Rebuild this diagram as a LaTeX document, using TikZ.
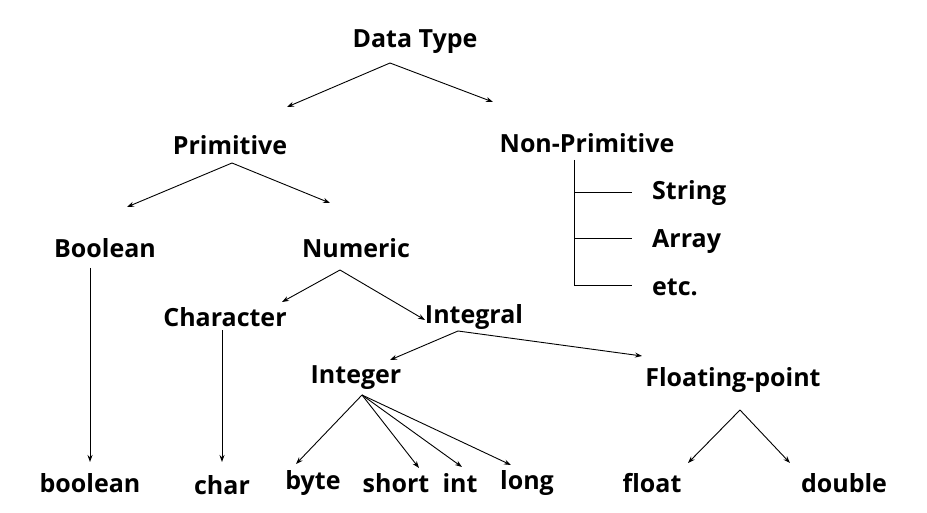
\documentclass[tikz,border=0pt]{standalone}
\usepackage{fontspec}
\setmainfont{Open Sans}
\usetikzlibrary{arrows.meta}
\begin{document}
\begin{tikzpicture}[x=1pt,y=-1pt,
  lbl/.style={font=\fontsize{25}{28}\selectfont\bfseries, inner sep=0pt},
  arr/.style={-{Stealth[length=7pt,width=5pt]}, line width=0.9pt},
  ln/.style={line width=0.9pt}]
\useasboundingbox (0,0) rectangle (927,513);
\node[lbl] (dt) at (415,42) {Data Type};
\node[lbl] (prim) at (230,145) {Primitive};
\node[lbl] (np) at (587,143) {Non-Primitive};
\node[lbl,anchor=west] (str) at (652,193) {String};
\node[lbl,anchor=west] (arrn) at (652,242) {Array};
\node[lbl,anchor=west] (etc) at (652,287) {etc.};
\node[lbl] (bool) at (105,248) {Boolean};
\node[lbl] (num) at (356,248) {Numeric};
\node[lbl] (chr) at (225,317) {Character};
\node[lbl] (intg) at (474,317) {Integral};
\node[lbl] (integer) at (356,378) {Integer};
\node[lbl] (fp) at (733,380) {Floating-point};
\node[lbl] (b1) at (90,483) {boolean};
\node[lbl] (b2) at (222,485) {char};
\node[lbl] (b3) at (313,483) {byte};
\node[lbl] (b4) at (396,483) {short};
\node[lbl] (b5) at (460,483) {int};
\node[lbl] (b6) at (527,483) {long};
\node[lbl] (b7) at (652,483) {float};
\node[lbl] (b8) at (844,483) {double};
% connector end points
\coordinate (dtS) at (390,63);
\coordinate (primN) at (287,107);
\coordinate (npN) at (493,102);
\coordinate (primS) at (232,163);
\coordinate (boolN) at (127,207);
\coordinate (numN) at (330,203);
\coordinate (boolS) at (90,268);
\coordinate (b1N) at (90,462);
\coordinate (numS) at (340,270);
\coordinate (chrN) at (282,302);
\coordinate (intgN) at (425,320);
\coordinate (chrS) at (222,330);
\coordinate (b2N) at (222,462);
\coordinate (intgS) at (458,331);
\coordinate (integerN) at (390,360);
\coordinate (fpN) at (642,356);
\coordinate (integerS) at (362,395);
\coordinate (b3N) at (296,464);
\coordinate (b4N) at (419,468);
\coordinate (b5N) at (462,467);
\coordinate (b6N) at (511,465);
\coordinate (fpS) at (740,410);
\coordinate (b7N) at (688,463);
\coordinate (b8N) at (790,463);
\coordinate (npS) at (574,160);
\coordinate (npE) at (574,285);
\coordinate (etcW) at (632,285);
\coordinate (strL) at (574,192);
\coordinate (strW) at (632,192);
\coordinate (arrL) at (574,238);
\coordinate (arrW) at (632,238);
\draw[arr] (dtS) -- (primN);
\draw[arr] (dtS) -- (npN);
\draw[arr] (primS) -- (boolN);
\draw[arr] (primS) -- (numN);
\draw[arr] (boolS) -- (b1N);
\draw[arr] (numS) -- (chrN);
\draw[arr] (numS) -- (intgN);
\draw[arr] (chrS) -- (b2N);
\draw[arr] (intgS) -- (integerN);
\draw[arr] (intgS) -- (fpN);
\foreach \t in {b3N,b4N,b5N,b6N} \draw[arr] (integerS) -- (\t);
\draw[arr] (fpS) -- (b7N);
\draw[arr] (fpS) -- (b8N);
\draw[ln] (npS) -- (npE) -- (etcW);
\draw[ln] (strL) -- (strW);
\draw[ln] (arrL) -- (arrW);
\end{tikzpicture}
\end{document}
